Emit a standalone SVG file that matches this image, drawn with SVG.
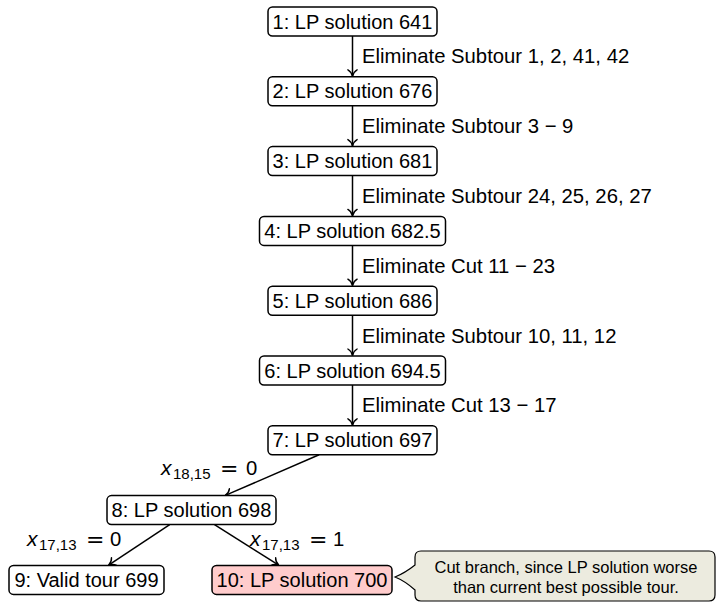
<svg xmlns="http://www.w3.org/2000/svg" width="717" height="604" viewBox="0 0 717 604">
<style>
.n{fill:#fff;stroke:#000;stroke-width:1.5}
.t{font-family:"Liberation Sans",Arial,sans-serif;font-size:20px;fill:#000}
.c{text-anchor:middle}
.e{fill:none;stroke:#000;stroke-width:1.5}
.m{font-family:"Liberation Sans",Arial,sans-serif;font-size:20.3px;fill:#000}
.i{font-style:italic;font-size:21px}
.s{font-size:15px}
.q{font-family:"DejaVu Sans",sans-serif;font-size:22px}
.ct{font-family:"Liberation Sans",Arial,sans-serif;font-size:16.5px;fill:#000;text-anchor:middle}
</style>
<defs>
<marker id="ah" markerUnits="userSpaceOnUse" viewBox="-8 -6 9 12" refX="0" refY="0" markerWidth="9" markerHeight="12" orient="auto">
<path d="M-6.5,-4.6 C-5,-1.8 -1.4,-0.35 0,0 C-1.4,0.35 -5,1.8 -6.5,4.6" fill="none" stroke="#000" stroke-width="1.4" stroke-linecap="round"/>
</marker>
</defs>
<g id="connectors">
<line class="e" x1="352.5" y1="36" x2="352.5" y2="76.3" marker-end="url(#ah)"/>
<line class="e" x1="352.5" y1="105.8" x2="352.5" y2="146.1" marker-end="url(#ah)"/>
<line class="e" x1="352.5" y1="175.6" x2="352.5" y2="215.9" marker-end="url(#ah)"/>
<line class="e" x1="352.5" y1="245.4" x2="352.5" y2="285.7" marker-end="url(#ah)"/>
<line class="e" x1="352.5" y1="315.2" x2="352.5" y2="355.5" marker-end="url(#ah)"/>
<line class="e" x1="352.5" y1="385" x2="352.5" y2="425.3" marker-end="url(#ah)"/>
<line class="e" x1="319.1" y1="454.8" x2="225.3" y2="495.4" marker-end="url(#ah)"/>
<line class="e" x1="169.7" y1="524.6" x2="108.6" y2="565.1" marker-end="url(#ah)"/>
<line class="e" x1="214.5" y1="524.6" x2="278.7" y2="565.1" marker-end="url(#ah)"/>
<text class="m" x="362" y="63.4">Eliminate Subtour 1, 2, 41, 42</text>
<text class="m" x="362" y="133.2">Eliminate Subtour 3 − 9</text>
<text class="m" x="362" y="203">Eliminate Subtour 24, 25, 26, 27</text>
<text class="m" x="362" y="272.8">Eliminate Cut 11 − 23</text>
<text class="m" x="362" y="342.6">Eliminate Subtour 10, 11, 12</text>
<text class="m" x="362" y="412.4">Eliminate Cut 13 − 17</text>
<text class="m"><tspan class="i" x="161" y="475">x</tspan><tspan class="s" x="173" y="479">18,15</tspan><tspan class="q" x="220" y="476">=</tspan><tspan x="246" y="475">0</tspan></text>
<text class="m"><tspan class="i" x="27" y="546">x</tspan><tspan class="s" x="39" y="550">17,13</tspan><tspan class="q" x="86" y="547">=</tspan><tspan x="110" y="546">0</tspan></text>
<text class="m"><tspan class="i" x="250" y="546">x</tspan><tspan class="s" x="262" y="550">17,13</tspan><tspan class="q" x="309" y="547">=</tspan><tspan x="333" y="546">1</tspan></text>
</g>
<g id="node1"><rect class="n" x="268" y="7" width="169" height="29" rx="4.5"/><text class="t c" x="352.5" y="28.5">1: LP solution 641</text></g>
<g id="node2"><rect class="n" x="268" y="76.8" width="169" height="29" rx="4.5"/><text class="t c" x="352.5" y="98.3">2: LP solution 676</text></g>
<g id="node3"><rect class="n" x="268" y="146.6" width="169" height="29" rx="4.5"/><text class="t c" x="352.5" y="168.1">3: LP solution 681</text></g>
<g id="node4"><rect class="n" x="259.5" y="216.4" width="186" height="29" rx="4.5"/><text class="t c" x="352.5" y="237.9">4: LP solution 682.5</text></g>
<g id="node5"><rect class="n" x="268" y="286.2" width="169" height="29" rx="4.5"/><text class="t c" x="352.5" y="307.7">5: LP solution 686</text></g>
<g id="node6"><rect class="n" x="259.5" y="356" width="186" height="29" rx="4.5"/><text class="t c" x="352.5" y="377.5">6: LP solution 694.5</text></g>
<g id="node7"><rect class="n" x="268" y="425.8" width="169" height="29" rx="4.5"/><text class="t c" x="352.5" y="447.3">7: LP solution 697</text></g>
<g id="node8"><rect class="n" x="107" y="495.6" width="169" height="29" rx="4.5"/><text class="t c" x="191.5" y="517.1">8: LP solution 698</text></g>
<g id="node9"><rect class="n" x="9" y="565.4" width="155" height="29" rx="4.5"/><text class="t c" x="86.5" y="586.9">9: Valid tour 699</text></g>
<g id="node10"><rect class="n" x="212" y="565.4" width="180" height="29" rx="4.5" style="fill:#ffcccc"/><text class="t c" x="302" y="586.9">10: LP solution 700</text></g>
<g id="callout">
<path d="M421,551 H709 Q715,551 715,557 V595 Q715,601 709,601 H421 Q415,601 415,595 V590 Q405,581 395,577 Q405,573 415,565 V557 Q415,551 421,551 Z" fill="#ecebdf" stroke="#000" stroke-width="1.2"/>
<text class="ct" x="566" y="573">Cut branch, since LP solution worse</text>
<text class="ct" x="566" y="593">than current best possible tour.</text>
</g>
</svg>
